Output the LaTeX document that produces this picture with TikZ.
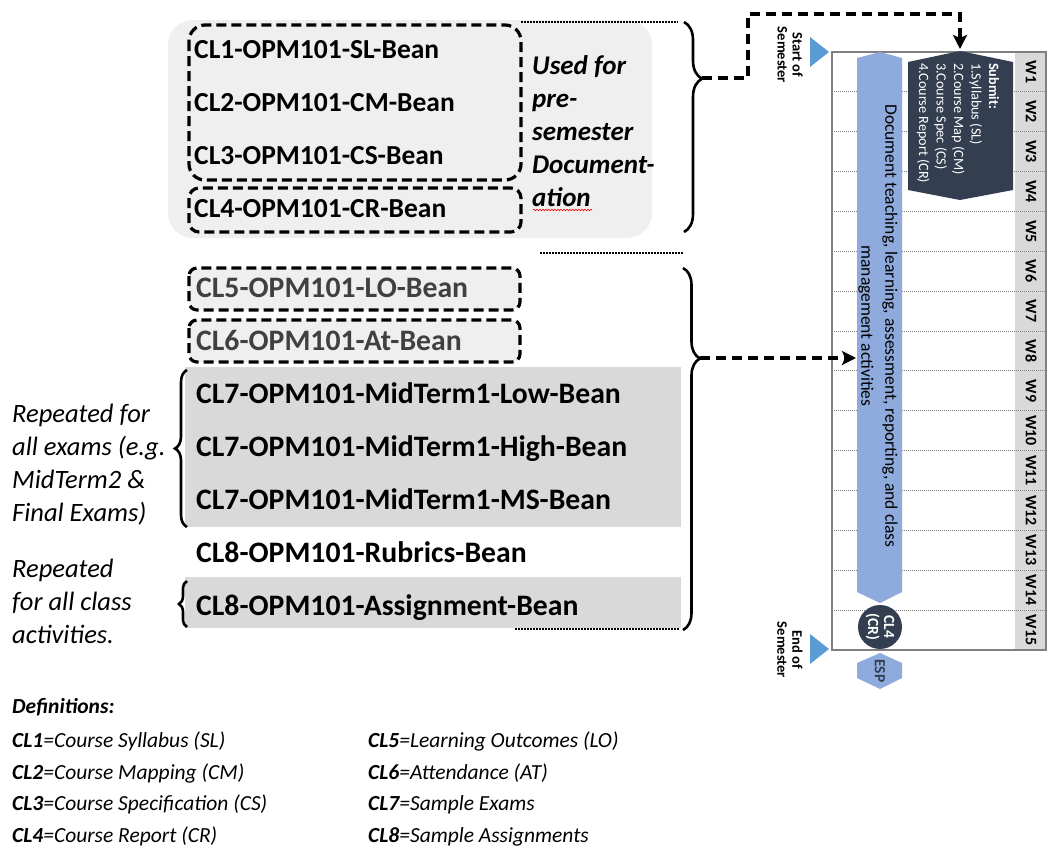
\documentclass[tikz,border=0pt]{standalone}
\usepackage{fontspec}
\setmainfont{Carlito}
\usetikzlibrary{decorations.pathreplacing,decorations.pathmorphing,arrows.meta}
\definecolor{panelgray}{HTML}{EFEFEF}
\definecolor{boxgray}{HTML}{EFEFEF}
\definecolor{bandgray}{HTML}{D9D9D9}
\definecolor{barblue}{HTML}{8FAADC}
\definecolor{navy}{HTML}{333F50}
\definecolor{triblue}{HTML}{5B9BD5}
\definecolor{softtext}{HTML}{404040}
\definecolor{gridgray}{HTML}{808080}
\begin{document}
\begin{tikzpicture}[x=1pt,y=-1pt,
  dbox/.style={draw=black,line width=3.2pt,dash pattern=on 10pt off 5pt,rounded corners=#1},
  bean/.style={anchor=base west,inner sep=0pt,font=\bfseries\fontsize{27.5}{33}\selectfont},
  beanb/.style={anchor=base west,inner sep=0pt,font=\bfseries\fontsize{29.7}{33}\selectfont},
  usedtxt/.style={anchor=base west,inner sep=0pt,font=\bfseries\itshape\fontsize{27}{33}\selectfont},
  reptxt/.style={anchor=base west,inner sep=0pt,font=\itshape\fontsize{26.5}{33}\selectfont},
  deftxt/.style={anchor=base west,inner sep=0pt,font=\itshape\fontsize{21.5}{24}\selectfont},
  dotline/.style={line width=1.8pt,dash pattern=on 1.5pt off 1.5pt},
  brc/.style={decorate,decoration={brace,amplitude=#1},line width=2.6pt},
  darrow/.style={line width=3.4pt,dash pattern=on 10pt off 6pt,-{Stealth[length=14pt,width=14pt,inset=3pt]}},
  wlab/.style={rotate=-90,inner sep=0pt,font=\bfseries\fontsize{16}{18}\selectfont},
  grid/.style={gridgray,line width=0.9pt,dash pattern=on 1pt off 1pt}
]
\fill[white] (0,0) rectangle (1062,846);
\useasboundingbox (0,0) rectangle (1062,846);

% ---------- top group ----------
\fill[panelgray,rounded corners=25pt] (168,20) rectangle (652,238);
\draw[dbox=16pt] (189,25) rectangle (521,180);
\draw[dbox=10pt] (189,188) rectangle (521,232);
\node[bean] (cl1) at (194,58) {CL1-OPM101-SL-Bean};
\node[bean] (cl2) at (194,111) {CL2-OPM101-CM-Bean};
\node[bean] (cl3) at (194,164) {CL3-OPM101-CS-Bean};
\node[bean] (cl4) at (194,217) {CL4-OPM101-CR-Bean};
\foreach \t [count=\i] in {Used for,pre-,semester,Document-,ation}
  \node[usedtxt] (used\i) at (532,{74+33*(\i-1)}) {\t};
\draw[red,line width=0.6pt,decorate,decoration={snake,amplitude=0.8pt,segment length=3pt}] (533,210) -- (592,210);

\draw[dotline] (521,22) -- (678,22);
\draw[brc={18pt},decoration={aspect=0.27}] (684,22) -- (684,232);
\coordinate (b1tip) at (702,78);

\draw[dotline] (540,253) -- (683,253);

% ---------- second group ----------
\draw[dbox=8pt,fill=boxgray] (189,268) rectangle (520,310);
\draw[dbox=8pt,fill=boxgray] (189,320) rectangle (520,362);
\fill[bandgray] (185,367) rectangle (681,527);
\fill[bandgray] (185,577) rectangle (681,628);
\node[beanb,text=softtext] (cl5) at (196,297) {CL5-OPM101-LO-Bean};
\node[beanb,text=softtext] (cl6) at (196,350) {CL6-OPM101-At-Bean};
\node[beanb] (cl7a) at (196,403) {CL7-OPM101-MidTerm1-Low-Bean};
\node[beanb] (cl7b) at (196,456) {CL7-OPM101-MidTerm1-High-Bean};
\node[beanb] (cl7c) at (196,509) {CL7-OPM101-MidTerm1-MS-Bean};
\node[beanb] (cl8a) at (196,562) {CL8-OPM101-Rubrics-Bean};
\node[beanb] (cl8b) at (196,615) {CL8-OPM101-Assignment-Bean};

\draw[dotline] (515,629) -- (680,629);
\draw[brc={17pt},decoration={aspect=0.25}] (683,268) -- (683,630);
\coordinate (b2tip) at (700,358);

\draw[brc={12pt}] (187,527) -- (187,370);
\draw[brc={8pt}] (187,627) -- (187,581);
\foreach \t [count=\i] in {Repeated for,all exams (e.g.,MidTerm2 \&,Final Exams)}
  \node[reptxt] (repa\i) at (12,{422+33*(\i-1)}) {\t};
\foreach \t [count=\i] in {Repeated,for all class,activities.}
  \node[reptxt] (repb\i) at (12,{577+33*(\i-1)}) {\t};

% ---------- definitions ----------
\node[deftxt,font=\bfseries\itshape\fontsize{21.5}{24}\selectfont] (defs) at (12,713) {Definitions:};
\node[deftxt] (d1) at (12,747) {\textbf{CL1}=Course Syllabus (SL)};
\node[deftxt] (d2) at (12,779) {\textbf{CL2}=Course Mapping (CM)};
\node[deftxt] (d3) at (12,810) {\textbf{CL3}=Course Specification (CS)};
\node[deftxt] (d4) at (12,842) {\textbf{CL4}=Course Report (CR)};
\node[deftxt] (d5) at (368,747) {\textbf{CL5}=Learning Outcomes (LO)};
\node[deftxt] (d6) at (368,779) {\textbf{CL6}=Attendance (AT)};
\node[deftxt] (d7) at (368,810) {\textbf{CL7}=Sample Exams};
\node[deftxt] (d8) at (368,842) {\textbf{CL8}=Sample Assignments};

% ---------- timeline ----------
\fill[bandgray] (1015,52) rectangle (1046,650);
\foreach \i in {1,...,14}
  \draw[grid] (832,{52+39.867*\i}) -- (1046,{52+39.867*\i});
\draw[gridgray,line width=1.6pt] (832,52) rectangle (1046,650);
\foreach \i in {1,...,15}
  \node[wlab] (w\i) at (1031,{52+39.867*(\i-0.5)}) {W\i};

\fill[barblue] (857,58) -- (880,52) -- (902,58) -- (902,592) -- (880,603) -- (857,592) -- cycle;
\node[rotate=-90,align=center,inner sep=0pt,font=\fontsize{17.5}{24}\selectfont] (doc) at (878,326)
  {Document teaching, learning, assessment, reporting, and class\\management activities};

\fill[navy] (908,62) -- (960,51) -- (1013,62) -- (1013,190) -- (960,200) -- (908,190) -- cycle;
\node[rotate=-90,anchor=west,align=left,inner sep=0pt,text=white,font=\fontsize{14.2}{17.5}\selectfont] (submit) at (958,63)
  {\textbf{Submit:}\\1.Syllabus (SL)\\2.Course Map (CM)\\3.Course Spec (CS)\\4.Course Report (CR)};

\node[circle,fill=navy,minimum size=44pt,inner sep=0pt,text=white,rotate=-90,align=center,
  font=\bfseries\fontsize{15.5}{16}\selectfont] (cl4c) at (880,627) {CL4\\(CR)};

\fill[barblue] (857,663) -- (880,653) -- (902,663) -- (902,678) -- (880,689) -- (857,678) -- cycle;
\node[rotate=-90,inner sep=0pt,text=navy,font=\bfseries\fontsize{15.5}{16}\selectfont] (esp) at (880,671) {ESP};

\fill[triblue] (810,37) -- (829,52) -- (810,67) -- cycle;
\fill[triblue] (810,634) -- (829,649) -- (810,664) -- cycle;
\node[rotate=-90,align=center,inner sep=0pt,font=\bfseries\fontsize{14.5}{15}\selectfont] (start) at (790,55) {Start of\\Semester};
\node[rotate=-90,align=center,inner sep=0pt,font=\bfseries\fontsize{14.5}{15}\selectfont] (end) at (790,650) {End of\\Semester};

% ---------- arrows ----------
\coordinate (subtop) at (960,49);
\coordinate (barside) at (856,358);
\draw[darrow] (b1tip) -- (748,78) -- (748,14) -- (960,14) -- (subtop);
\draw[darrow] (b2tip) -- (barside);
\end{tikzpicture}
\end{document}
